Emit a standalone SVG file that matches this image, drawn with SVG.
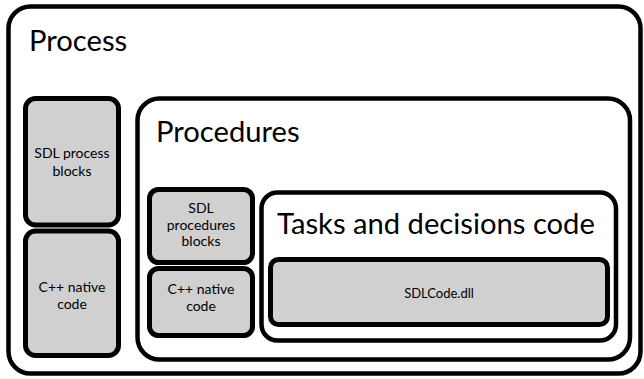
<svg xmlns="http://www.w3.org/2000/svg" width="644" height="379" viewBox="0 0 644 379">
<style>
.c{fill:#fff;stroke:#000;stroke-width:4.5}
.b{fill:#d0d0d0;stroke:#000;stroke-width:5}
.t{font-family:Lato,"Liberation Sans",sans-serif;fill:#000}
.big{font-size:29.2px}
.sm{font-size:14px;text-anchor:middle}
</style>
<rect width="644" height="379" fill="#fff"/>
<g id="process">
<rect class="c" x="8.5" y="6.5" width="632" height="367" rx="22"/>
<text class="t big" x="29" y="51">Process</text>
</g>
<g id="sdl-process-blocks">
<rect class="b" x="25.5" y="98.5" width="93" height="126.5" rx="10"/>
<text class="t sm" x="72" y="158">SDL process</text>
<text class="t sm" x="72" y="176">blocks</text>
</g>
<g id="cpp-native-code-process">
<rect class="b" x="25.5" y="231" width="93" height="124.5" rx="10"/>
<text class="t sm" x="72" y="292">C++ native</text>
<text class="t sm" x="72" y="309">code</text>
</g>
<g id="procedures">
<rect class="c" x="137.5" y="98.5" width="492.5" height="261" rx="22"/>
<text class="t big" x="156" y="142">Procedures</text>
</g>
<g id="sdl-procedures-blocks">
<rect class="b" x="149.5" y="189.5" width="103" height="73" rx="9"/>
<text class="t sm" x="201" y="213">SDL</text>
<text class="t sm" x="201" y="230">procedures</text>
<text class="t sm" x="201" y="246">blocks</text>
</g>
<g id="cpp-native-code-procedures">
<rect class="b" x="149.5" y="268.5" width="103" height="67" rx="9"/>
<text class="t sm" x="201" y="294">C++ native</text>
<text class="t sm" x="201" y="311">code</text>
</g>
<g id="tasks-and-decisions-code">
<rect class="c" x="261.5" y="192.5" width="354.5" height="148" rx="16"/>
<text class="t big" x="277" y="234">Tasks and decisions code</text>
</g>
<g id="sdlcode-dll">
<rect class="b" x="270.5" y="259.5" width="337" height="65" rx="8"/>
<text class="t" font-size="13" text-anchor="middle" x="439" y="298">SDLCode.dll</text>
</g>
<g id="connectors"/>
</svg>
